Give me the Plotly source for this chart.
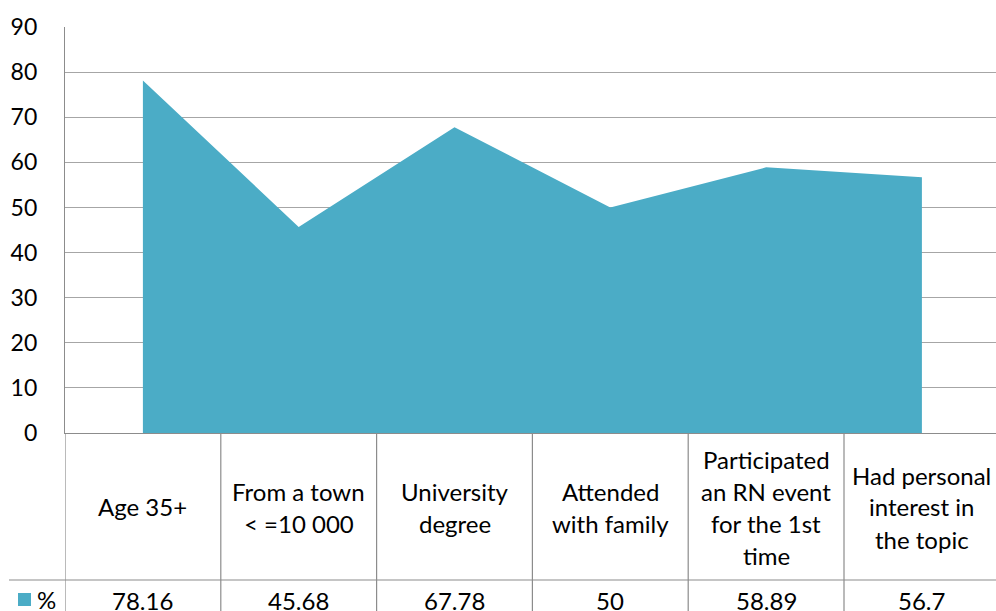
import plotly.graph_objects as go

# data
categories = [
    "Age 35+",
    "From a town<br>< =10 000",
    "University<br>degree",
    "Attended<br>with family",
    "Participated<br>an RN event<br>for the 1st<br>time",
    "Had personal<br>interest in<br>the topic",
]
values = [78.16, 45.68, 67.78, 50, 58.89, 56.7]
value_labels = ["78.16", "45.68", "67.78", "50", "58.89", "56.7"]
series_name = "%"

FILL = "#4BACC6"
GRID = "#A6A6A6"
LINE = "#8C8C8C"
FONT = "Lato"

W, H = 996, 611
left, top, bottom_px = 65, 27, 433
plot_h = bottom_px - top
plot_w = W - left
cat_w = 155.8
line_gap = 32


def py(ypx):
    # pixel row -> paper y
    return (bottom_px - ypx) / plot_h


def px(xpx):
    # pixel column -> paper x
    return (xpx - left) / plot_w


xs = list(range(len(categories)))

fig = go.Figure()
fig.add_trace(
    go.Scatter(
        x=xs,
        y=values,
        mode="none",
        fill="tozeroy",
        fillcolor=FILL,
        name=series_name,
        hoverinfo="skip",
    )
)

shapes = []
# table column borders
for i in range(len(categories) + 1):
    xb = i - 0.5
    shapes.append(dict(type="line", xref="x", yref="paper", x0=xb, x1=xb,
                       y0=0, y1=py(H + 20), line=dict(color=LINE, width=1.2)))
# table row border
shapes.append(dict(type="line", xref="paper", yref="paper", x0=px(9), x1=1.0,
                   y0=py(580), y1=py(580), line=dict(color=LINE, width=1.2)))
# legend key
shapes.append(dict(type="rect", xref="paper", yref="paper", x0=px(18), x1=px(31),
                   y0=py(606), y1=py(593), fillcolor=FILL, line=dict(width=0)))

annotations = []
for i, lab in enumerate(categories):
    lines = lab.split("<br>")
    start = 507 - line_gap * (len(lines) - 1) / 2
    for j, ln in enumerate(lines):
        annotations.append(dict(x=i, y=py(start + j * line_gap), xref="x", yref="paper",
                                text=ln, showarrow=False, xanchor="center",
                                yanchor="middle",
                                font=dict(family=FONT, size=24, color="#000")))
for i, v in enumerate(value_labels):
    annotations.append(dict(x=i, y=py(600), xref="x", yref="paper", text=v,
                            showarrow=False, xanchor="center", yanchor="middle",
                            font=dict(family=FONT, size=24, color="#000")))
annotations.append(dict(x=px(35), y=py(599), xref="paper", yref="paper",
                        text=series_name, showarrow=False, xanchor="left",
                        yanchor="middle", font=dict(family=FONT, size=24, color="#000")))

fig.update_layout(
    width=W,
    height=H,
    margin=dict(l=left, r=0, t=top, b=H - bottom_px),
    paper_bgcolor="white",
    plot_bgcolor="white",
    showlegend=False,
    hovermode=False,
    shapes=shapes,
    annotations=annotations,
    font=dict(family=FONT, size=23, color="#000"),
)
fig.update_xaxes(
    range=[-0.5, -0.5 + plot_w / cat_w],
    showticklabels=False,
    showgrid=False,
    zeroline=False,
    showline=True,
    linecolor=LINE,
    linewidth=1.2,
    ticks="",
    fixedrange=True,
)
fig.update_yaxes(
    range=[0, 90],
    tickvals=list(range(0, 91, 10)),
    showgrid=True,
    gridcolor=GRID,
    gridwidth=1.2,
    zeroline=False,
    showline=True,
    linecolor=LINE,
    linewidth=1.2,
    ticks="",
    ticklabelstandoff=22,
    tickfont=dict(family=FONT, size=23, color="#000"),
    fixedrange=True,
)

# drop the default page margin so the figure fills the window exactly
fig.write_html(
    "out.html",
    config={"displayModeBar": False},
    post_script="document.body.style.margin='0';document.body.style.overflow='hidden';",
)
